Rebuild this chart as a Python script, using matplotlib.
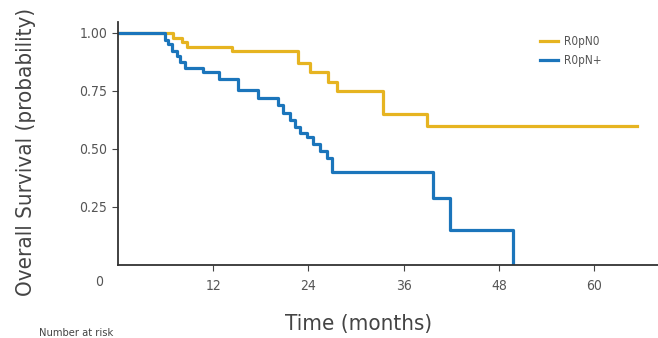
import matplotlib
matplotlib.use("Agg")
import matplotlib.pyplot as plt

plt.rcParams['font.family'] = ['DejaVu Sans']
plt.rcParams['font.stretch'] = 'condensed'

# R0pN0 (yellow): step times (months) and survival after each step
pn0_times = [0, 6.9, 8.1, 8.7, 14.4, 22.7, 24.2, 26.4, 27.6, 33.4, 38.9, 65.4]
pn0_surv = [1.0, 0.98, 0.96, 0.94, 0.92, 0.87, 0.83, 0.79, 0.75, 0.65, 0.60, 0.60]

# R0pN+ (blue)
pnp_times = [0, 5.9, 6.3, 6.8, 7.4, 7.8, 8.4, 10.7, 12.8, 15.1, 17.6, 20.2, 20.8,
             21.7, 22.3, 22.9, 23.8, 24.6, 25.4, 26.3, 27.0, 39.7, 41.8, 49.8]
pnp_surv = [1.0, 0.97, 0.95, 0.92, 0.90, 0.875, 0.85, 0.83, 0.80, 0.755, 0.72, 0.69,
            0.655, 0.625, 0.595, 0.57, 0.55, 0.52, 0.49, 0.46, 0.40, 0.29, 0.15, 0.0]

x_ticks = [12, 24, 36, 48, 60]
y_ticks = [0.25, 0.5, 0.75, 1.0]
y_labels = ["0.25", "0.50", "0.75", "1.00"]

yellow = '#E6B421'
blue = '#1B75BB'
grey = '#555555'

fig = plt.figure(figsize=(6.58, 3.38), dpi=100)
ax = fig.add_axes([0.179, 0.216, 0.821, 0.719])

ax.step(pn0_times, pn0_surv, where='post', color=yellow, lw=2.3, label='R0pN0')
ax.step(pnp_times, pnp_surv, where='post', color=blue, lw=2.3, label='R0pN+')

ax.set_xlim(0, 68)
ax.set_ylim(0, 1.047)
ax.set_xticks(x_ticks)
ax.set_yticks(y_ticks)
ax.set_yticklabels(y_labels)
ax.tick_params(axis='both', colors='#444444', labelcolor=grey, labelsize=10,
               length=4, width=0.8, direction='out')
ax.tick_params(axis='x', pad=6)
ax.spines['top'].set_visible(False)
ax.spines['right'].set_visible(False)
for s in ['left', 'bottom']:
    ax.spines[s].set_color('#333333')
    ax.spines[s].set_linewidth(1.3)

ax.text(-2.3, -0.075, '0', ha='center', va='center', fontsize=10, color=grey,
        clip_on=False)

ax.set_ylabel('Overall Survival (probability)', fontsize=16, color='#444444')
ax.yaxis.set_label_coords(-0.152, 0.465)
ax.set_xlabel('Time (months)', fontsize=16, color='#444444')
ax.xaxis.set_label_coords(0.446, -0.2)

leg = ax.legend(loc='upper right', bbox_to_anchor=(0.915, 0.99), frameon=False,
                fontsize=8.5, handlelength=1.5, labelcolor=grey, handletextpad=0.5)

fig.text(0.06, 0.0, 'Number at risk', fontsize=8, color='#444444', va='bottom')

fig.savefig('out.png', dpi=100)
